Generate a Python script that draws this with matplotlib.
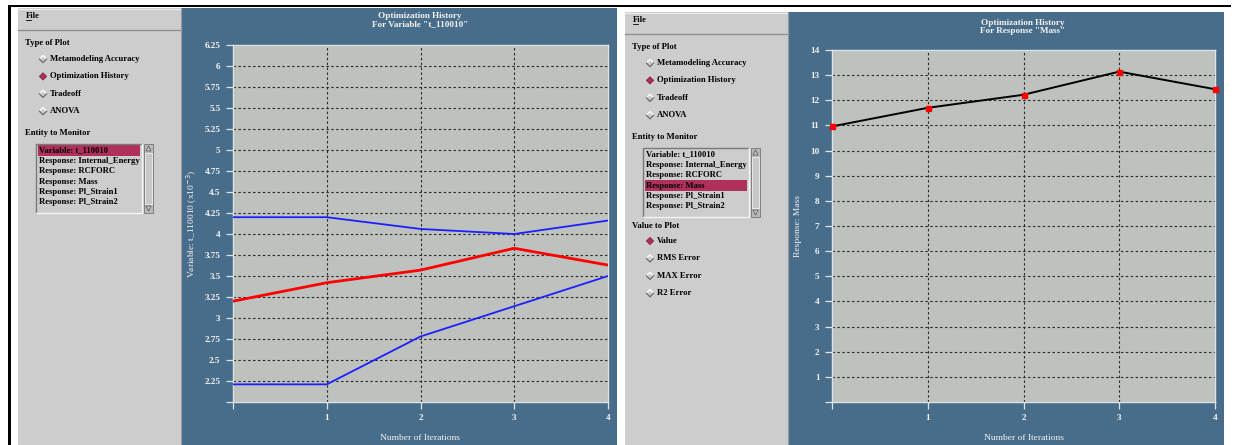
import matplotlib
matplotlib.use("Agg")
import matplotlib.pyplot as plt
from matplotlib.patches import Rectangle, Polygon
import numpy as np

# ---------------- data ----------------
iterations = [0, 1, 2, 3, 4]
var_value = [3.20, 3.42, 3.57, 3.83, 3.63]
var_upper = [4.20, 4.20, 4.06, 4.00, 4.16]
var_lower = [2.21, 2.21, 2.78, 3.14, 3.50]
mass_value = [10.96, 11.70, 12.22, 13.14, 12.44]

x_ticks = [0, 1, 2, 3, 4]
x_ticklabels = ['', '1', '2', '3', '4']
var_yticks = [2.0, 2.25, 2.5, 2.75, 3.0, 3.25, 3.5, 3.75, 4.0, 4.25, 4.5,
              4.75, 5.0, 5.25, 5.5, 5.75, 6.0, 6.25]
var_yticklabels = ['', '2.25', '2.5', '2.75', '3', '3.25', '3.5', '3.75', '4',
                   '4.25', '4.5', '4.75', '5', '5.25', '5.5', '5.75', '6', '6.25']
mass_yticks = list(range(0, 15))
mass_yticklabels = [''] + [str(v) for v in range(1, 15)]

plot_types = ['Metamodeling Accuracy', 'Optimization History', 'Tradeoff', 'ANOVA']
entities = ['Variable: t_110010', 'Response: Internal_Energy', 'Response: RCFORC',
            'Response: Mass', 'Response: Pl_Strain1', 'Response: Pl_Strain2']
values_to_plot = ['Value', 'RMS Error', 'MAX Error', 'R2 Error']

# ---------------- styles ----------------
W, H = 1235, 445
GRAY = '#cdcdcd'
BLUE = '#486d8b'
PLOTBG = '#bdc2be'
HILITE = '#b0305c'
LIGHT = '#dde3e6'
TXT = '#f2f2f2'
SERIF = ['Liberation Serif', 'DejaVu Serif']
GUI_FS = 6.2

fig = plt.figure(figsize=(W / 100, H / 100), dpi=100)
fig.patch.set_facecolor('white')
bg = fig.add_axes([0, 0, 1, 1])
bg.set_xlim(0, W)
bg.set_ylim(H, 0)
bg.axis('off')
bg.set_zorder(-10)


def rect(x0, y0, x1, y1, **kw):
    bg.add_patch(Rectangle((x0, y0), x1 - x0, y1 - y0, **kw))


def gtext(x, y, s, **kw):
    d = dict(fontsize=GUI_FS, family=SERIF, weight='bold', color='black',
             va='center', ha='left')
    d.update(kw)
    bg.text(x, y, s, **d)


def diamond(cx, cy, selected):
    r = 3.6
    if selected:
        bg.add_patch(Polygon([(cx - r, cy), (cx, cy - r), (cx + r, cy), (cx, cy + r)],
                             closed=True, fc=HILITE, ec='#7a1f40', lw=0.6))
    else:
        bg.plot([cx - r, cx, cx + r], [cy, cy - r, cy], color='white', lw=0.9)
        bg.plot([cx - r, cx, cx + r], [cy, cy + r, cy], color='#6a6a6a', lw=0.9)


def listbox(x0, y0, x1, y1, items, sel):
    sb = x1 - 9
    # sunken frame
    bg.plot([x0, x0, sb - 2], [y1, y0, y0], color='#7a7a7a', lw=1.0)
    bg.plot([x0, sb - 2, sb - 2], [y1, y1, y0], color='#f4f4f4', lw=1.0)
    # scrollbar
    rect(sb, y0, x1, y1, fc='#b8b8b8', ec='#808080', lw=0.7)
    rect(sb + 1, y0 + 9, x1 - 1, y1 - 9, fc='#c8c8c8', ec='#f0f0f0', lw=0.6)
    mx = (sb + x1) / 2
    bg.add_patch(Polygon([(mx - 2.5, y0 + 7), (mx, y0 + 2), (mx + 2.5, y0 + 7)],
                         closed=True, fc='#c8c8c8', ec='#606060', lw=0.6))
    bg.add_patch(Polygon([(mx - 2.5, y1 - 7), (mx, y1 - 2), (mx + 2.5, y1 - 7)],
                         closed=True, fc='#c8c8c8', ec='#606060', lw=0.6))
    step = (y1 - y0 - 7) / len(items)
    for i, s in enumerate(items):
        cy = y0 + 6.5 + step * i
        if i == sel:
            rect(x0 + 2, cy - 5.2, sb - 4, cy + 5.2, fc=HILITE, ec='none')
        gtext(x0 + 3, cy, s)


def side_panel(x0, y0, x1, with_values, sel_entity):
    rect(x0, y0, x1, H, fc=GRAY, ec='none')
    # menu bar
    bg.plot([x0, x1], [y0 + 0.5, y0 + 0.5], color='#f0f0f0', lw=0.8)
    bg.plot([x0, x1], [y0 + 22, y0 + 22], color='#8c8c8c', lw=0.9)
    bg.plot([x1 - 0.5, x1 - 0.5], [y0, H], color='#9a9a9a', lw=0.8)
    gtext(x0 + 8, y0 + 8.5, 'File')
    bg.plot([x0 + 8, x0 + 12.5], [y0 + 12.3, y0 + 12.3], color='black', lw=0.6)
    gtext(x0 + 7, y0 + 35, 'Type of Plot')
    for i, s in enumerate(plot_types):
        cy = y0 + 51 + 17.4 * i
        diamond(x0 + 25, cy, i == 1)
        gtext(x0 + 32, cy, s)
    gtext(x0 + 7, y0 + 125, 'Entity to Monitor')
    listbox(x0 + 18, y0 + 136, x0 + 135, y0 + 205, entities, sel_entity)
    if with_values:
        gtext(x0 + 7, y0 + 214, 'Value to Plot')
        for i, s in enumerate(values_to_plot):
            cy = y0 + 229 + 17.4 * i
            diamond(x0 + 25, cy, i == 0)
            gtext(x0 + 32, cy, s)


# frame lines
rect(8, 5, 1231, 7.4, fc='black', ec='none')
rect(8, 5, 10.5, H, fc='black', ec='none')

side_panel(18, 8, 181, False, 0)
rect(181, 8, 617, H, fc=BLUE, ec='none')
side_panel(625, 12, 788, True, 3)
rect(788, 12, 1224, H, fc=BLUE, ec='none')


def style_axes(ax):
    ax.set_facecolor(PLOTBG)
    for sp in ax.spines.values():
        sp.set_color(LIGHT)
        sp.set_linewidth(1.0)
    ax.tick_params(axis='both', colors=LIGHT, labelcolor=TXT, length=5,
                   width=0.9, labelsize=6.6, pad=4)
    for lab in ax.get_xticklabels() + ax.get_yticklabels():
        lab.set_family(SERIF)
        lab.set_weight('bold')
    ax.grid(True, color='#2a2a2a', linestyle=(0, (2.2, 2.2)), linewidth=0.8)
    ax.set_axisbelow(True)


def frac(x0, y0, x1, y1):
    return [x0 / W, 1 - y1 / H, (x1 - x0) / W, (y1 - y0) / H]


# ---------- left chart ----------
ax1 = fig.add_axes(frac(233, 45, 608, 402))
ax1.plot(iterations, var_upper, color='#1e1eff', lw=1.3, zorder=3)
ax1.plot(iterations, var_lower, color='#1e1eff', lw=1.3, zorder=3)
ax1.plot(iterations, var_value, color='#ff0000', lw=2.0, zorder=4)
ax1.set_xlim(0, 4)
ax1.set_ylim(2.0, 6.25)
ax1.set_xticks(x_ticks)
ax1.set_xticklabels(x_ticklabels)
ax1.set_yticks(var_yticks)
ax1.set_yticklabels(var_yticklabels)
style_axes(ax1)
ax1.set_xlabel('Number of Iterations', color=TXT, family=SERIF, fontsize=6.8,
               labelpad=8)
ax1.set_ylabel('Variable: t_110010 (x10$^{-3}$)', color=TXT, family=SERIF,
               fontsize=6.8, labelpad=4)
bg.text(420, 20, 'Optimization History\nFor Variable "t_110010"', color=TXT,
        family=SERIF, weight='bold', fontsize=6.6, ha='center', va='center',
        linespacing=1.05)

# ---------- right chart ----------
ax2 = fig.add_axes(frac(832, 50, 1215, 402))
ax2.plot(iterations, mass_value, color='black', lw=1.4, zorder=3,
         marker='s', markersize=3.6, markerfacecolor='#ff0000',
         markeredgecolor='#ff0000', clip_on=False)
ax2.set_xlim(0, 4)
ax2.set_ylim(0, 14)
ax2.set_xticks(x_ticks)
ax2.set_xticklabels(x_ticklabels)
ax2.set_yticks(mass_yticks)
ax2.set_yticklabels(mass_yticklabels)
style_axes(ax2)
ax2.set_xlabel('Number of Iterations', color=TXT, family=SERIF, fontsize=6.8,
               labelpad=8)
ax2.set_ylabel('Response: Mass', color=TXT, family=SERIF, fontsize=6.8,
               labelpad=6)
bg.text(1023, 27, 'Optimization History\nFor Response "Mass"', color=TXT,
        family=SERIF, weight='bold', fontsize=6.6, ha='center', va='center',
        linespacing=1.05)

fig.savefig('out.png', dpi=100, facecolor='white')
